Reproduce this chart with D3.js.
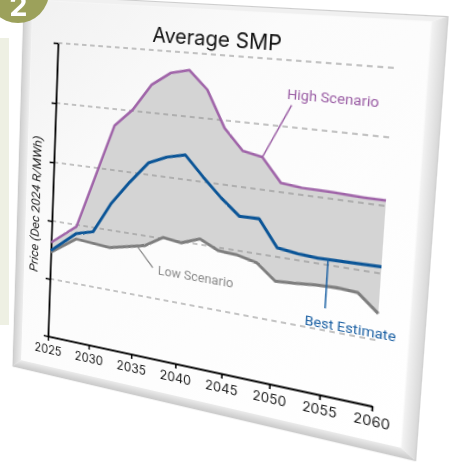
<!DOCTYPE html>
<html><head><meta charset="utf-8">
<script src="https://cdn.jsdelivr.net/npm/d3@7"></script>
<style>
html,body{margin:0;padding:0;background:#fff;width:453px;height:462px;overflow:hidden;}
#page{position:relative;width:453px;height:462px;overflow:hidden;}
#bg,#fg{position:absolute;left:0;top:0;}
#plane{position:absolute;left:0;top:0;width:520px;height:520px;transform-origin:0 0;}
#plane svg{overflow:visible;}
</style></head><body>
<div id="page"><svg id="bg" width="453" height="462"></svg><div id="plane"></div><svg id="fg" width="453" height="462"></svg></div>
<script>
// ---------- data (R/MWh) ----------
const xTicks = [2025, 2030, 2035, 2040, 2045, 2050, 2055, 2060];
const yTicks = [0, 500, 1000, 1500, 2000, 2500];
const highYears  = [2025, 2028, 2032, 2034, 2036, 2038, 2040, 2042, 2044, 2046, 2048, 2050, 2052, 2055, 2058, 2060];
const highValues = [815, 985, 1865, 2010, 2225, 2330, 2365, 2225, 1940, 1780, 1750, 1570, 1555, 1550, 1540, 1540];
const bestYears  = [2025, 2028, 2030, 2032, 2034, 2036, 2038, 2040, 2042, 2044, 2046, 2048, 2050, 2052, 2054, 2060];
const bestValues = [745, 925, 965, 1225, 1420, 1595, 1660, 1695, 1540, 1395, 1270, 1275, 1070, 1050, 1040, 1050];
const lowYears   = [2025, 2028, 2032, 2036, 2038, 2040, 2042, 2044, 2046, 2048, 2050, 2052, 2054, 2056, 2058, 2060];
const lowValues  = [730, 880, 855, 920, 1010, 990, 1045, 975, 965, 930, 810, 820, 835, 840, 830, 700];
const title = "Average SMP";
const yLabel = "Price (Dec 2024 R/MWh)";

// ---------- flat plot frame and its perspective ----------
const PX0 = 70, PY0 = 60, PW = 330, PH = 310;
const quad = [[58, 43], [395, 68], [372, 406], [48, 336]]; // plot corners on screen

function squareToQuad(q) {
  const [x0, y0] = q[0], [x1, y1] = q[1], [x2, y2] = q[2], [x3, y3] = q[3];
  const dx1 = x1 - x2, dx2 = x3 - x2, dx3 = x0 - x1 + x2 - x3;
  const dy1 = y1 - y2, dy2 = y3 - y2, dy3 = y0 - y1 + y2 - y3;
  const den = dx1 * dy2 - dy1 * dx2;
  const g = (dx3 * dy2 - dy3 * dx2) / den, h = (dx1 * dy3 - dy1 * dx3) / den;
  return [[x1 - x0 + g * x1, x3 - x0 + h * x3, x0],
          [y1 - y0 + g * y1, y3 - y0 + h * y3, y0],
          [g, h, 1]];
}
function mul(A, B) {
  return A.map((r, i) => B[0].map((_, j) => r.reduce((s, _, k) => s + A[i][k] * B[k][j], 0)));
}
function inv(m) {
  const [a, b, c] = m[0], [d, e, f] = m[1], [g, h, i] = m[2];
  const A = e * i - f * h, B = -(d * i - f * g), C = d * h - e * g;
  const det = a * A + b * B + c * C;
  return [[A / det, -(b * i - c * h) / det, (b * f - c * e) / det],
          [B / det, (a * i - c * g) / det, -(a * f - c * d) / det],
          [C / det, -(a * h - b * g) / det, (a * e - b * d) / det]];
}
const S = [[1 / PW, 0, -PX0 / PW], [0, 1 / PH, -PY0 / PH], [0, 0, 1]];
const M = mul(squareToQuad(quad), S);
const Mi = inv(M);
function toFlat(sx, sy) {
  const X = Mi[0][0] * sx + Mi[0][1] * sy + Mi[0][2];
  const Y = Mi[1][0] * sx + Mi[1][1] * sy + Mi[1][2];
  const W = Mi[2][0] * sx + Mi[2][1] * sy + Mi[2][2];
  return [X / W, Y / W];
}
d3.select("#plane").style("transform",
  `matrix3d(${M[0][0]},${M[1][0]},0,${M[2][0]},${M[0][1]},${M[1][1]},0,${M[2][1]},0,0,1,0,${M[0][2]},${M[1][2]},0,${M[2][2]})`);

// ---------- surrounding page ----------
const bg = d3.select("#bg");
bg.append("rect").attr("x", 0).attr("y", 38).attr("width", 9).attr("height", 287).attr("fill", "#eef0e3");
const fg = d3.select("#fg");
fg.append("circle").attr("cx", 18).attr("cy", -8).attr("r", 31).attr("fill", "#9ca15b");
fg.append("text").attr("x", 18.5).attr("y", 16).attr("text-anchor", "middle")
  .attr("font-family", "Inter, Roboto, sans-serif").attr("font-weight", 700).attr("font-size", 29)
  .attr("fill", "#fff").text("2");

// ---------- the chart plane ----------
const svg = d3.select("#plane").append("svg").attr("width", 520).attr("height", 520);
const defs = svg.append("defs");
function grad(id, x1, y1, x2, y2, stops) {
  const g = defs.append("linearGradient").attr("id", id)
    .attr("x1", x1).attr("y1", y1).attr("x2", x2).attr("y2", y2);
  stops.forEach(([o, c]) => g.append("stop").attr("offset", o).attr("stop-color", c));
}
grad("gFace", 0, 0, 1, 1, [[0, "#f1f1f1"], [0.35, "#fbfbfb"], [1, "#ffffff"]]);
grad("gLeft", 0, 0, 1, 0, [[0, "#cfcfcf"], [1, "#eeeeee"]]);
grad("gBottom", 0, 1, 0, 0, [[0, "#c9c9c9"], [1, "#ececec"]]);
grad("gRight", 1, 0, 0, 0, [[0, "#d8d8d8"], [1, "#f4f4f4"]]);

// card: outer edge from the picture, inner face inset
const cTL = toFlat(24, -8), cTR = toFlat(447, 20), cBR = toFlat(416, 460), cBL = toFlat(13, 367);
const o = { x0: (cTL[0] + cBL[0]) / 2, x1: (cTR[0] + cBR[0]) / 2, y0: (cTL[1] + cTR[1]) / 2, y1: (cBL[1] + cBR[1]) / 2 };
const n = { x0: o.x0 + 10, x1: o.x1 - 13, y0: o.y0 + 5, y1: o.y1 - 9 };
const card = svg.append("g");
const poly = (pts, fill) => card.append("polygon").attr("points", pts.map(p => p.join(",")).join(" ")).attr("fill", fill);
poly([[o.x0, o.y0], [o.x1, o.y0], [n.x1, n.y0], [n.x0, n.y0]], "#f0f0f0");
poly([[o.x0, o.y0], [n.x0, n.y0], [n.x0, n.y1], [o.x0, o.y1]], "url(#gLeft)");
poly([[o.x0, o.y1], [n.x0, n.y1], [n.x1, n.y1], [o.x1, o.y1]], "url(#gBottom)");
poly([[o.x1, o.y0], [o.x1, o.y1], [n.x1, n.y1], [n.x1, n.y0]], "url(#gRight)");
card.append("rect").attr("x", n.x0).attr("y", n.y0).attr("width", n.x1 - n.x0).attr("height", n.y1 - n.y0).attr("fill", "url(#gFace)");
card.append("rect").attr("x", o.x0).attr("y", o.y0).attr("width", o.x1 - o.x0).attr("height", o.y1 - o.y0)
  .attr("fill", "none").attr("stroke", "#c4c4c4").attr("stroke-width", 0.8);

// scales
const x = d3.scaleLinear().domain([2025, 2060]).range([PX0, PX0 + PW]);
const y = d3.scaleLinear().domain([0, 2500]).range([PY0 + PH, PY0]);
const pts = (ys, vs) => ys.map((yr, i) => [yr, vs[i]]);
const high = pts(highYears, highValues), best = pts(bestYears, bestValues), low = pts(lowYears, lowValues);
const line = d3.line().x(d => x(d[0])).y(d => y(d[1]));

// band between high and low
svg.append("path").attr("d", line(high.concat(low.slice().reverse())) + "Z").attr("fill", "#d4d4d4");

// grid lines
svg.append("g").selectAll("line").data(yTicks.filter(t => t > 0)).join("line")
  .attr("x1", x(2025)).attr("x2", x(2060)).attr("y1", d => y(d)).attr("y2", d => y(d))
  .attr("stroke", "#8a8a8a").attr("stroke-width", 1).attr("stroke-dasharray", "5,4");

// axes
const xAxis = svg.append("g").attr("transform", `translate(0,${y(0)})`)
  .call(d3.axisBottom(x).tickValues(xTicks).tickFormat(d3.format("d")).tickSize(5).tickSizeOuter(0).tickPadding(5));
const yAxis = svg.append("g").attr("transform", `translate(${x(2025)},0)`)
  .call(d3.axisLeft(y).tickValues(yTicks).tickFormat("").tickSize(5).tickSizeOuter(0));
[xAxis, yAxis].forEach(a => {
  a.select(".domain").attr("stroke", "#000").attr("stroke-width", 2);
  a.selectAll(".tick line").attr("stroke", "#000").attr("stroke-width", 1.6);
});
xAxis.selectAll("text").attr("font-family", "Inter, Roboto, sans-serif").attr("font-size", 13).attr("fill", "#1a1a1a");

// series
svg.append("path").attr("d", line(low)).attr("fill", "none").attr("stroke", "#7e7e7e").attr("stroke-width", 3).attr("stroke-linejoin", "round");
svg.append("path").attr("d", line(high)).attr("fill", "none").attr("stroke", "#a065a9").attr("stroke-width", 2.6).attr("stroke-linejoin", "round");
svg.append("path").attr("d", line(best)).attr("fill", "none").attr("stroke", "#0b5597").attr("stroke-width", 3).attr("stroke-linejoin", "round");

// annotations
const notes = [
  { text: "High Scenario", color: "#9a5da4", from: [2048, 1750], to: [2050.6, 2165], at: [2050.1, 2210], size: 13.2 },
  { text: "Low Scenario", color: "#8a8a8a", from: [2035.2, 900], to: [2037, 750], at: [2037.6, 700], size: 12.8 },
  { text: "Best Estimate", color: "#1b60a3", from: [2055, 1045], to: [2055, 670], at: [2053.1, 515], size: 13.2 }
];
notes.forEach(nt => {
  svg.append("line").attr("x1", x(nt.from[0])).attr("y1", y(nt.from[1])).attr("x2", x(nt.to[0])).attr("y2", y(nt.to[1]))
    .attr("stroke", nt.color).attr("stroke-width", 1.4);
  svg.append("text").attr("x", x(nt.at[0])).attr("y", y(nt.at[1]))
    .attr("font-family", "Roboto, Inter, sans-serif").attr("font-size", nt.size).attr("fill", nt.color).text(nt.text);
});

// title and y label
const tp = toFlat(215, 46);
svg.append("text").attr("x", tp[0]).attr("y", tp[1]).attr("text-anchor", "middle")
  .attr("font-family", "Inter, Roboto, sans-serif").attr("font-size", 20).attr("fill", "#111").text(title);
const yp = toFlat(35.5, 204);
svg.append("text").attr("transform", `translate(${yp[0]},${yp[1]}) rotate(-90)`).attr("text-anchor", "middle")
  .attr("dominant-baseline", "central").attr("font-family", "Roboto, Inter, sans-serif").attr("font-style", "italic")
  .attr("font-size", 13.6).attr("fill", "#222").text(yLabel);
</script>
</body></html>
